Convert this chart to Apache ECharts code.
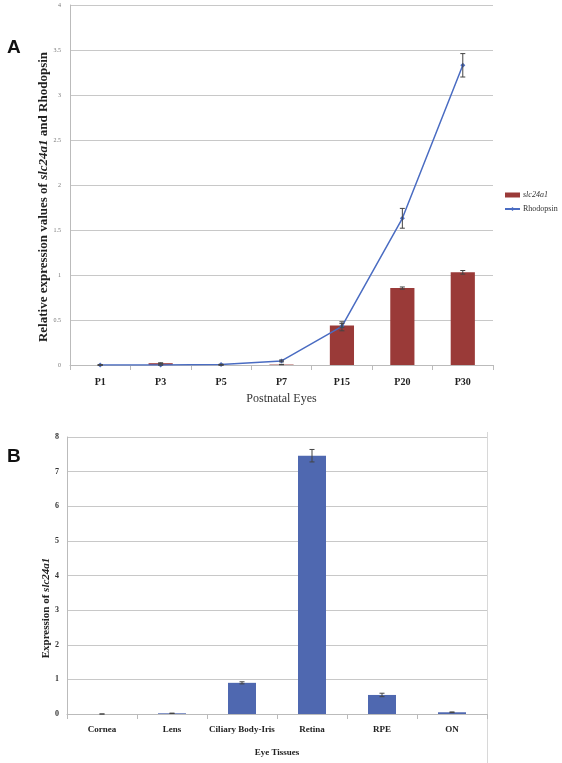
<!DOCTYPE html>
<html><head><meta charset="utf-8">
<script src="https://cdn.jsdelivr.net/npm/echarts@6/dist/echarts.min.js"></script>
<style>html,body{margin:0;padding:0;background:#fff}#c{width:562px;height:763px}</style>
</head><body><div id="c"></div>
<script>
// Panel A
const agesA = ['P1','P3','P5','P7','P15','P20','P30'];
const slcA = [0, 0.02, 0, 0.005, 0.44, 0.855, 1.03];
const slcErrA = [0, 0.005, 0, 0.002, 0.02, 0.012, 0.02];
const rhoA = [0, 0, 0.005, 0.045, 0.43, 1.63, 3.33];
const rhoErrA = [0, 0, 0.003, 0.01, 0.05, 0.11, 0.13];
const yTicksA = [0, 0.5, 1, 1.5, 2, 2.5, 3, 3.5, 4];
// Panel B
const tissuesB = ['Cornea','Lens','Ciliary Body-Iris','Retina','RPE','ON'];
const slcB = [0, 0.02, 0.9, 7.46, 0.55, 0.05];
const slcErrB = [0, 0.005, 0.03, 0.18, 0.05, 0.01];
const yTicksB = [0,1,2,3,4,5,6,7,8];

const serif = '"Liberation Serif","DejaVu Serif",serif';
const redC = '#9a3a38', blueLine = '#4a6cc2', blueBar = '#4f68b0';

function errData(vals, errs){ return vals.map((v,i)=>[i, v-errs[i], v+errs[i]]); }
function errRender(params, api){
  const x = api.value(0), lo = api.value(1), hi = api.value(2);
  const a = api.coord([x, lo]), b = api.coord([x, hi]);
  const w = 2.5, st = {stroke:'#444', lineWidth:1};
  return {type:'group', children:[
    {type:'line', shape:{x1:a[0],y1:a[1],x2:b[0],y2:b[1]}, style:st},
    {type:'line', shape:{x1:a[0]-w,y1:a[1],x2:a[0]+w,y2:a[1]}, style:st},
    {type:'line', shape:{x1:b[0]-w,y1:b[1],x2:b[0]+w,y2:b[1]}, style:st}
  ]};
}

const chart = echarts.init(document.getElementById('c'), null, {renderer:'canvas'});
chart.setOption({
  animation:false,
  backgroundColor:'#fff',
  graphic:[
    {type:'text', left:7, top:38, style:{text:'A', font:'bold 19px "Liberation Sans",Arial,sans-serif', fill:'#111'}},
    {type:'text', left:7, top:447, style:{text:'B', font:'bold 19px "Liberation Sans",Arial,sans-serif', fill:'#111'}},
    {type:'line', shape:{x1:487.5,y1:432,x2:487.5,y2:763}, style:{stroke:'#d8d8d8', lineWidth:1}},
    {type:'text', x:44, y:197, rotation:Math.PI/2,
     style:{text:'Relative expression values of {i|slc24a1} and Rhodopsin', align:'center', verticalAlign:'middle',
       font:'bold 13px "Liberation Serif",serif', fill:'#222',
       rich:{i:{font:'italic bold 13px "Liberation Serif",serif', fill:'#222'}}}},
    {type:'text', x:46, y:608, rotation:Math.PI/2,
     style:{text:'Expression of {i|slc24a1}', align:'center', verticalAlign:'middle',
       font:'bold 11px "Liberation Serif",serif', fill:'#222',
       rich:{i:{font:'italic bold 11px "Liberation Serif",serif', fill:'#222'}}}}
  ],
  legend:{
    left:499, top:186, orient:'vertical', itemGap:6, itemWidth:15, itemHeight:5,
    data:[{name:'slc24a1', icon:'rect'}, {name:'Rhodopsin'}],
    formatter: n => n === 'slc24a1' ? '{i|slc24a1}' : n,
    textStyle:{fontFamily:serif, fontSize:8, color:'#333', padding:[0,0,0,-2], rich:{i:{fontStyle:'italic', fontFamily:serif, fontSize:8, color:'#333'}}}
  },
  grid:[
    {left:70, right:69, top:5, height:360},
    {left:67, right:75, top:437, height:277}
  ],
  xAxis:[
    {type:'category', gridIndex:0, data:agesA,
     axisLine:{lineStyle:{color:'#bbb'}}, axisTick:{show:true, lineStyle:{color:'#bbb'}},
     axisLabel:{fontFamily:serif, fontWeight:'bold', fontSize:10, color:'#222', margin:12},
     name:'Postnatal Eyes', nameLocation:'middle', nameGap:28,
     nameTextStyle:{fontFamily:serif, fontSize:12, color:'#333'}},
    {type:'category', gridIndex:1, data:tissuesB,
     axisLine:{lineStyle:{color:'#bbb'}}, axisTick:{show:true, lineStyle:{color:'#bbb'}},
     axisLabel:{fontFamily:serif, fontWeight:'bold', fontSize:9, color:'#222', margin:11, interval:0},
     name:'Eye Tissues', nameLocation:'middle', nameGap:34,
     nameTextStyle:{fontFamily:serif, fontSize:9, fontWeight:'bold', color:'#222'}}
  ],
  yAxis:[
    {type:'value', gridIndex:0, min:yTicksA[0], max:yTicksA[yTicksA.length-1], interval:0.5,
     axisLine:{show:true, lineStyle:{color:'#bbb'}}, axisTick:{show:false},
     splitLine:{lineStyle:{color:'#c8c8c8'}},
     axisLabel:{fontFamily:serif, fontSize:6, color:'#777', margin:9}},
    {type:'value', gridIndex:1, min:yTicksB[0], max:yTicksB[yTicksB.length-1], interval:1,
     axisLine:{show:true, lineStyle:{color:'#bbb'}}, axisTick:{show:false},
     splitLine:{lineStyle:{color:'#c8c8c8'}},
     axisLabel:{fontFamily:serif, fontSize:8, fontWeight:'bold', color:'#333', margin:8}}
  ],
  series:[
    {name:'slc24a1', type:'bar', xAxisIndex:0, yAxisIndex:0, data:slcA, barWidth:'40%',
     itemStyle:{color:redC}},
    {name:'slc24a1 err', type:'custom', xAxisIndex:0, yAxisIndex:0, renderItem:errRender,
     data:errData(slcA, slcErrA), z:5},
    {name:'Rhodopsin', type:'line', xAxisIndex:0, yAxisIndex:0, data:rhoA,
     symbol:'diamond', symbolSize:5, lineStyle:{color:blueLine, width:1.5}, itemStyle:{color:blueLine}, z:4},
    {name:'Rhodopsin err', type:'custom', xAxisIndex:0, yAxisIndex:0, renderItem:errRender,
     data:errData(rhoA, rhoErrA), z:6},
    {name:'B', type:'bar', xAxisIndex:1, yAxisIndex:1, data:slcB, barWidth:'40%',
     itemStyle:{color:blueBar}},
    {name:'B err', type:'custom', xAxisIndex:1, yAxisIndex:1, renderItem:errRender,
     data:errData(slcB, slcErrB), z:5}
  ]
});
</script></body></html>
